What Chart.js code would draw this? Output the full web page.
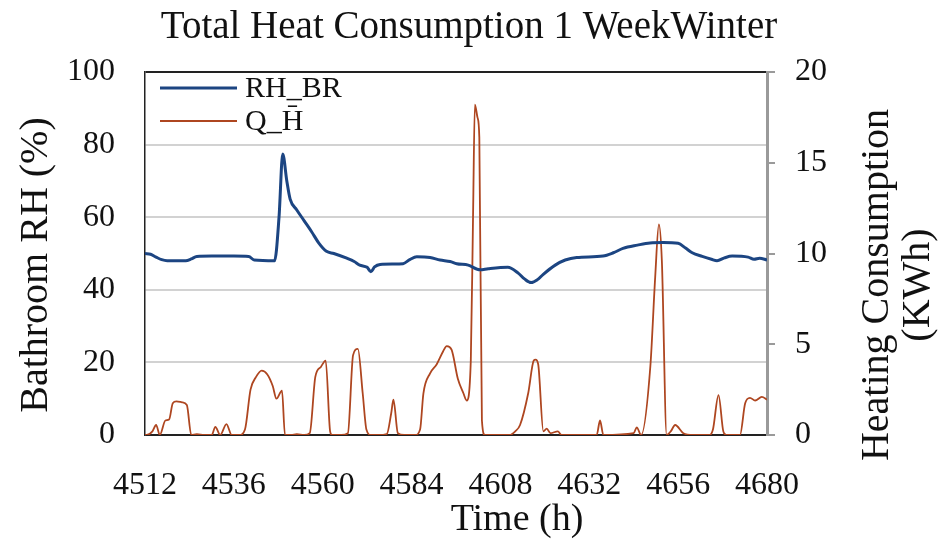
<!DOCTYPE html>
<html>
<head>
<meta charset="utf-8">
<script src="https://cdn.jsdelivr.net/npm/chart.js@4/dist/chart.umd.min.js"></script>
<style>
  html, body { margin: 0; padding: 0; background: #fff; }
  #wrap { width: 938px; height: 543px; }
</style>
</head>
<body>
<div id="wrap"><canvas id="heatChart" width="938" height="543"></canvas></div>
<script>
// x ticks every 24 h
const hourMin = 4512;
const hourMax = 4680;

// bathroom relative humidity (%), left axis
const rhHours = [4512, 4513.5, 4515, 4516.5, 4518, 4523, 4524.5, 4526, 4530, 4536, 4540, 4541.5, 4547,
  4548.2, 4549.2, 4550.3, 4551.2, 4553, 4555, 4557, 4559, 4561, 4563, 4566.5, 4568.5, 4570, 4572, 4573,
  4574, 4575.5, 4579, 4581.7, 4583.5, 4585.4, 4589, 4591.7, 4594.4, 4596.2, 4599.3, 4602.5, 4604.7, 4610,
  4612.8, 4614.5, 4616.3, 4618, 4619.5, 4622.8, 4625.5, 4628.6, 4635.7, 4638.5, 4641.1, 4645, 4648.4, 4652,
  4656, 4658, 4659.8, 4662.5, 4665, 4666.5, 4668.5, 4670.6, 4674.9, 4676.5, 4678, 4680];
const rhValues = [50.0, 49.8, 49.0, 48.3, 48.0, 48.0, 48.5, 49.2, 49.3, 49.3, 49.2, 48.2, 48.0,
  60, 77.4, 70, 65, 62, 59, 56, 52.8, 50.6, 50.0, 48.7, 47.8, 46.8, 46.2, 45.0,
  46.3, 47.0, 47.1, 47.2, 48.3, 49.1, 48.9, 48.2, 47.8, 47.2, 46.8, 45.5, 45.8, 46.2,
  44.6, 43.0, 42.0, 42.8, 44.2, 46.8, 48.2, 48.9, 49.3, 50.2, 51.4, 52.3, 52.9, 53.0,
  52.8, 51.5, 50.2, 49.2, 48.4, 48.0, 48.8, 49.3, 49.0, 48.4, 48.7, 48.2];

// heating consumption (kWh), right axis
const qHours = [4512, 4512.5, 4514, 4515, 4516, 4517.5, 4518.5, 4519.5, 4520.5, 4522, 4523.3, 4524.5, 4526,
  4528, 4530, 4531, 4532.3, 4534, 4535.4, 4537.5, 4539, 4540.5, 4542, 4543.5, 4545, 4546.5, 4547.5, 4549,
  4549.8, 4551.5, 4553, 4555, 4556.5, 4558, 4559.5, 4560.8, 4562, 4562.5, 4565, 4566.8, 4568.2, 4569.5,
  4570.8, 4571.8, 4573, 4575, 4577.3, 4578.5, 4579.1, 4580.3, 4582, 4585, 4586.3, 4587.2, 4589, 4590.8,
  4592.5, 4593.5, 4594.8, 4596.5, 4598, 4598.9, 4600, 4600.6, 4601.1, 4601.8, 4602.3, 4603, 4603.8, 4610.5,
  4612, 4613.3, 4615.5, 4617, 4617.5, 4618.2, 4619.6, 4620.5, 4621.5, 4623.5, 4624.5, 4634, 4634.9, 4635.8,
  4644, 4644.8, 4646, 4648.5, 4649.8, 4650.8, 4651.6, 4652.9, 4654, 4655.2, 4657.4, 4660, 4664.5, 4665.4,
  4666.9, 4668.2, 4669, 4672.7, 4674.1, 4675.4, 4676.8, 4678.6, 4680];
const qValues = [0, 0, 0.2, 0.55, 0, 0.8, 0.85, 1.75, 1.85, 1.8, 1.65, 0, 0.05,
  0, 0, 0.45, 0, 0.6, 0, 0, 0.3, 2.5, 3.2, 3.55, 3.35, 2.7, 2.0, 2.45,
  0, 0, 0.05, 0, 0.1, 3.2, 3.75, 4.1, 0.2, 0, 0, 0.1, 4.4, 4.75,
  2.3, 0.3, 0, 0, 0.05, 1.2, 1.95, 0.1, 0, 0, 0.3, 2.3, 3.4, 3.9,
  4.6, 4.9, 4.7, 3.1, 2.3, 1.9, 4.1, 12, 18.2, 17.5, 16.4, 0.8, 0, 0,
  0.2, 0.55, 2.3, 4.1, 4.15, 3.9, 0.2, 0.35, 0.1, 0.2, 0, 0, 0.8, 0,
  0.1, 0.42, 0, 3.8, 8.7, 11.6, 9.6, 0, 0.2, 0.55, 0.1, 0, 0, 0.3,
  2.2, 0.2, 0, 0, 1.75, 2.05, 1.9, 2.1, 1.95];

const rhColor = '#1C4582';
const qColor = '#AE4620';
const serif = "'Liberation Serif', 'Times New Roman', serif";

const toPoints = (xs, ys) => xs.map((x, i) => ({ x: x, y: ys[i] }));

// titles and the little legend are drawn by hand so they sit where the original has them
const textPlugin = {
  id: 'textPlugin',
  afterDraw(chart) {
    const ctx = chart.ctx;
    ctx.save();
    ctx.fillStyle = '#111';
    ctx.textAlign = 'center';
    ctx.textBaseline = 'middle';

    ctx.font = '39px ' + serif;
    ctx.fillText('Total Heat Consumption 1 WeekWinter', 469, 28);
    ctx.font = '38px ' + serif;
    ctx.fillText('Time (h)', 517, 520);

    ctx.font = '40px ' + serif;
    ctx.save();
    ctx.translate(36, 265);
    ctx.rotate(-Math.PI / 2);
    ctx.fillText('Bathroom RH (%)', 0, 0);
    ctx.restore();

    ctx.save();
    ctx.translate(877, 285);
    ctx.rotate(-Math.PI / 2);
    ctx.fillText('Heating Consumption', 0, 0);
    ctx.fillText('(KWh)', 0, 41);
    ctx.restore();

    // legend
    ctx.lineCap = 'butt';
    ctx.strokeStyle = rhColor;
    ctx.lineWidth = 3;
    ctx.beginPath(); ctx.moveTo(160, 88); ctx.lineTo(237, 88); ctx.stroke();
    ctx.strokeStyle = qColor;
    ctx.lineWidth = 1.8;
    ctx.beginPath(); ctx.moveTo(160, 121); ctx.lineTo(237, 121); ctx.stroke();
    ctx.textAlign = 'left';
    ctx.font = '30px ' + serif;
    ctx.fillText('RH_BR', 245, 89);
    ctx.fillText('Q_H\u0304', 245, 122);
    ctx.restore();
  }
};

new Chart(document.getElementById('heatChart'), {
  type: 'line',
  data: {
    datasets: [
      {
        label: 'RH_BR',
        data: toPoints(rhHours, rhValues),
        yAxisID: 'y',
        borderColor: rhColor,
        borderWidth: 3,
        pointRadius: 0,
        cubicInterpolationMode: 'monotone',
        fill: false
      },
      {
        label: 'Q_H',
        data: toPoints(qHours, qValues),
        yAxisID: 'y2',
        borderColor: qColor,
        borderWidth: 1.8,
        pointRadius: 0,
        cubicInterpolationMode: 'monotone',
        fill: false
      }
    ]
  },
  options: {
    responsive: false,
    animation: false,
    layout: { padding: { top: 72, left: 0, right: 0, bottom: 0 } },
    plugins: {
      legend: { display: false },
      title: { display: false },
      tooltip: { enabled: false }
    },
    scales: {
      x: {
        type: 'linear',
        min: hourMin,
        max: hourMax,
        afterFit: (s) => { s.height = 108; },
        ticks: {
          stepSize: 24,
          padding: 31,
          color: '#111',
          font: { family: serif, size: 32 },
          callback: (v) => String(v),
          maxRotation: 0
        },
        grid: { drawOnChartArea: false, drawTicks: false },
        border: { color: '#222', width: 1.5 }
      },
      y: {
        position: 'left',
        min: 0,
        max: 100,
        afterFit: (s) => { s.width = 145; },
        ticks: {
          stepSize: 20,
          padding: 30,
          color: '#111',
          font: { family: serif, size: 32 }
        },
        grid: {
          drawTicks: false,
          lineWidth: 2,
          color: (c) => (c.tick && (c.tick.value === 100 || c.tick.value === 0)) ? '#222' : '#D2D2D2'
        },
        border: { color: '#222', width: 1.5 }
      },
      y2: {
        position: 'right',
        min: 0,
        max: 20,
        afterFit: (s) => { s.width = 171; },
        ticks: {
          stepSize: 5,
          padding: 20,
          color: '#111',
          font: { family: serif, size: 32 }
        },
        grid: { drawOnChartArea: false, drawTicks: true, tickLength: 8, color: '#9A9A9A', lineWidth: 2 },
        border: { color: '#9A9A9A', width: 3 }
      }
    }
  },
  plugins: [textPlugin]
});
</script>
</body>
</html>
